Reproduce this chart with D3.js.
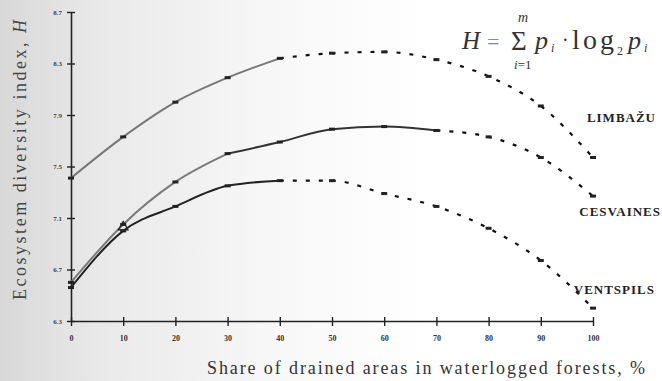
<!DOCTYPE html>
<html>
  <head>
    <script src="https://d3js.org/d3.v7.min.js" charset="utf-8"></script>
    <style>
      body { margin: 0; background: #fff; }
      text { font-family: "Liberation Serif", "DejaVu Serif", serif; }
    </style>
  </head>
  <body>
    <svg id="chart" width="662" height="381"></svg>
    <script>
      // share of drained areas, %
      var shares = [0, 10, 20, 30, 40, 50, 60, 70, 80, 90, 100];
      // ecosystem diversity index H for each region
      var limbazu   = [7.41, 7.73, 8.00, 8.19, 8.34, 8.38, 8.39, 8.33, 8.20, 7.97, 7.57];
      var cesvaines = [6.60, 7.05, 7.38, 7.60, 7.69, 7.79, 7.81, 7.78, 7.73, 7.57, 7.27];
      var ventspils = [6.56, 7.00, 7.19, 7.35, 7.39, 7.39, 7.29, 7.19, 7.02, 6.77, 6.40];
      var yTicks = [6.3, 6.7, 7.1, 7.5, 7.9, 8.3, 8.7];
      var xTicks = [0, 10, 20, 30, 40, 50, 60, 70, 80, 90, 100];

      var svg = d3.select("#chart");

      // scanned-paper look: greyish on the left
      var grad = svg.append("defs").append("linearGradient").attr("id", "bg");
      grad.append("stop").attr("offset", "0%").attr("stop-color", "#d8d8d8");
      grad.append("stop").attr("offset", "15%").attr("stop-color", "#e9e9e9");
      grad.append("stop").attr("offset", "40%").attr("stop-color", "#f7f7f7");
      grad.append("stop").attr("offset", "65%").attr("stop-color", "#ffffff");
      svg.append("rect").attr("width", 662).attr("height", 381).attr("fill", "url(#bg)");

      var x = d3.scaleLinear().domain([0, 100]).range([71, 593]);
      var y = d3.scaleLinear().domain([6.3, 8.7]).range([321, 12]);

      // axes
      var gx = svg.append("g").attr("transform", "translate(0," + y(6.3) + ")")
        .call(d3.axisBottom(x).tickValues(xTicks).tickSize(0).tickPadding(14).tickFormat(d3.format("d")));
      gx.select(".domain").attr("stroke", "#222").attr("stroke-width", 1.6);
      gx.selectAll(".tick line").attr("y1", -4).attr("y2", 5).attr("stroke", "#222").attr("stroke-width", 1.4);
      gx.selectAll(".tick text").attr("font-size", 8).attr("font-weight", "bold").attr("fill", "#333")
        .attr("font-family", "Liberation Serif");

      var gy = svg.append("g").attr("transform", "translate(" + x(0) + ",0)")
        .call(d3.axisLeft(y).tickValues(yTicks).tickSize(0).tickPadding(9).tickFormat(d3.format(".1f")));
      gy.select(".domain").attr("stroke", "#222").attr("stroke-width", 1.6);
      gy.selectAll(".tick line").attr("x1", -4).attr("x2", 4).attr("stroke", "#222").attr("stroke-width", 1.4);
      gy.selectAll(".tick text").attr("font-size", 7).attr("font-weight", "bold").attr("fill", "#444")
        .attr("font-family", "Liberation Serif");

      var line = d3.line().x(d => x(d[0])).y(d => y(d[1])).curve(d3.curveMonotoneX);

      function pts(vals, from, to) {
        return shares.map((s, i) => [s, vals[i]]).slice(from, to + 1);
      }

      // solid (observed) parts
      svg.append("path").attr("d", line(pts(limbazu, 0, 4)))
        .attr("fill", "none").attr("stroke", "#777").attr("stroke-width", 2);
      svg.append("path").attr("d", line(pts(cesvaines, 0, 3)))
        .attr("fill", "none").attr("stroke", "#7a7a7a").attr("stroke-width", 2);
      svg.append("path").attr("d", line(pts(cesvaines, 3, 7)))
        .attr("fill", "none").attr("stroke", "#333").attr("stroke-width", 2);
      svg.append("path").attr("d", line(pts(ventspils, 0, 4)))
        .attr("fill", "none").attr("stroke", "#222").attr("stroke-width", 2);

      // dashed (forecast) parts
      [[limbazu, 4], [cesvaines, 7], [ventspils, 4]].forEach(function(s) {
        svg.append("path").attr("d", line(pts(s[0], s[1], 10)))
          .attr("fill", "none").attr("stroke", "#111").attr("stroke-width", 2.2)
          .attr("stroke-dasharray", "4,9");
      });

      // point markers
      [limbazu, cesvaines, ventspils].forEach(function(vals) {
        svg.append("g").selectAll("rect").data(pts(vals, 0, 10)).enter().append("rect")
          .attr("x", d => x(d[0]) - 3).attr("y", d => y(d[1]) - 1.5)
          .attr("width", 6).attr("height", 3).attr("fill", "#222");
      });
      svg.append("path").attr("d", d3.symbol(d3.symbolTriangle, 40)())
        .attr("transform", "translate(" + x(10) + "," + y(7.03) + ")")
        .attr("fill", "none").attr("stroke", "#222").attr("stroke-width", 1.3);

      // series labels
      var labels = [["LIMBAŽU", 656, 122], ["CESVAINES", 661, 216], ["VENTSPILS", 655, 294]];
      svg.append("g").selectAll("text").data(labels).enter().append("text")
        .attr("x", d => d[1]).attr("y", d => d[2]).attr("text-anchor", "end")
        .attr("font-size", 13).attr("font-weight", "bold").attr("fill", "#222")
        .attr("letter-spacing", 1).text(d => d[0]);

      // axis titles
      svg.append("text").attr("transform", "translate(26,160) rotate(-90)")
        .attr("text-anchor", "middle").attr("font-size", 18).attr("fill", "#444")
        .attr("textLength", 280).attr("lengthAdjust", "spacing")
        .html('Ecosystem diversity index, <tspan font-style="italic">H</tspan>');
      svg.append("text").attr("x", 207).attr("y", 374)
        .attr("font-size", 18).attr("fill", "#333")
        .attr("textLength", 438).attr("lengthAdjust", "spacing")
        .text("Share of drained areas in waterlogged forests, %");

      // formula H = sum p_i log2 p_i
      var f = svg.append("g").attr("fill", "#333");
      f.append("text").attr("x", 462).attr("y", 49).attr("font-size", 25).attr("font-style", "italic").text("H");
      f.append("text").attr("x", 487).attr("y", 49).attr("font-size", 22).attr("fill", "#888").text("=");
      f.append("text").attr("x", 511).attr("y", 50).attr("font-size", 27).text("Σ");
      f.append("text").attr("x", 518).attr("y", 22).attr("font-size", 14).attr("font-style", "italic").text("m");
      f.append("text").attr("x", 514).attr("y", 69).attr("font-size", 13)
        .html('<tspan font-style="italic">i</tspan>=1');
      f.append("text").attr("x", 535).attr("y", 49).attr("font-size", 26).attr("font-style", "italic").text("p");
      f.append("text").attr("x", 551).attr("y", 52).attr("font-size", 12).attr("font-style", "italic").text("i");
      f.append("text").attr("x", 562).attr("y", 47).attr("font-size", 20).text("·");
      f.append("text").attr("x", 572).attr("y", 49).attr("font-size", 28)
        .attr("textLength", 42).attr("lengthAdjust", "spacing").text("log");
      f.append("text").attr("x", 617).attr("y", 55).attr("font-size", 12).text("2");
      f.append("text").attr("x", 628).attr("y", 49).attr("font-size", 26).attr("font-style", "italic").text("p");
      f.append("text").attr("x", 644).attr("y", 52).attr("font-size", 12).attr("font-style", "italic").text("i");
    </script>
  </body>
</html>
